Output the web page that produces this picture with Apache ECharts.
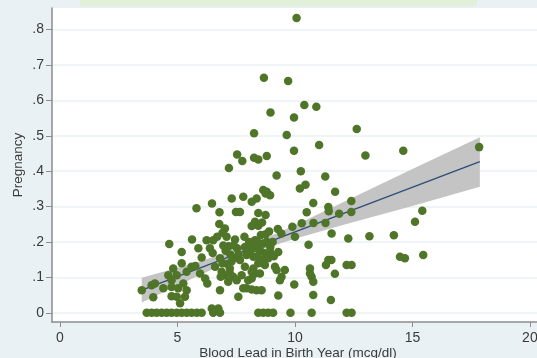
<!DOCTYPE html>
<html>
<head>
<meta charset="utf-8">
<script src="https://cdn.jsdelivr.net/npm/echarts@6/dist/echarts.min.js"></script>
<style>
  html, body { margin: 0; padding: 0; background: #eaf1f4; }
  #chart { width: 537px; height: 358px; }
</style>
</head>
<body>
<div id="chart"></div>
<script>
// blood lead (mcg/dl) and pregnancy rate
const leadX = [
  10.07, 8.68, 9.71, 10.40, 10.91, 8.96, 9.96, 8.26, 9.65, 12.63, 9.96, 11.03, 13.0, 14.61, 17.84,
  7.19, 7.54, 7.76, 8.26, 8.44, 8.80, 9.22, 10.25, 11.29, 10.21, 10.45, 11.71, 8.65, 8.80, 8.94, 8.75,
  7.31, 7.80, 8.16, 8.37, 6.47, 5.81, 6.79, 7.49, 7.66, 8.44, 8.75, 10.78, 12.40, 11.42, 11.44, 10.50,
  11.88, 12.40, 15.42, 15.11, 8.30, 8.44, 8.16, 6.78, 7.02, 6.92, 7.09, 6.69, 6.52, 6.24, 5.62, 4.65,
  5.89, 6.38, 6.50, 7.18, 7.45, 7.54, 5.18, 6.03, 9.89, 10.29, 10.79, 11.30, 9.27, 9.42, 8.75, 10.0,
  11.56, 12.27, 13.17, 14.21, 10.58, 8.30, 8.44, 8.16, 8.37, 8.65, 8.80, 8.09, 7.94, 8.23, 7.87, 8.51,
  8.72, 8.94, 8.86, 8.58, 8.44, 8.72, 9.29, 9.15, 9.22, 9.57, 9.43, 9.36, 8.23, 8.30, 8.16, 8.01, 8.51,
  10.64, 10.64, 10.71, 10.78, 11.42, 11.55, 11.32, 11.70, 12.20, 12.41, 15.46, 14.47, 14.68, 9.97,
  7.94, 8.16, 8.37, 8.58, 9.29, 10.78, 11.53, 6.92, 7.12, 7.23, 6.88, 7.02, 7.23, 7.37, 6.84, 7.16,
  7.52, 7.73, 8.16, 7.87, 7.66, 7.37, 7.80, 7.59, 6.81, 6.60, 5.96, 5.39, 5.60, 5.76, 5.18, 4.82,
  4.61, 4.97, 4.75, 6.27, 6.18, 6.81, 3.48, 3.90, 4.40, 4.75, 5.03, 5.25, 5.39, 4.75, 4.97, 5.32,
  3.97, 5.11, 6.46, 6.74, 4.04,
  7.05, 7.25, 7.40, 7.30, 6.95, 8.55, 8.90, 9.05, 8.60, 8.95, 8.40, 8.05, 7.60, 7.85, 9.10,
  3.69, 3.90, 4.11, 4.33, 4.54, 4.75, 4.97, 5.18, 5.39, 5.60, 5.82, 6.03, 6.52, 6.81,
  8.44, 8.65, 8.86, 9.07, 9.81, 10.71, 12.20, 12.41
];
const pregY = [
  0.833, 0.664, 0.655, 0.587, 0.582, 0.566, 0.552, 0.507, 0.502, 0.519, 0.458, 0.474, 0.444, 0.458, 0.468,
  0.409, 0.447, 0.429, 0.438, 0.433, 0.443, 0.388, 0.400, 0.385, 0.351, 0.362, 0.342, 0.347, 0.342, 0.332, 0.337,
  0.323, 0.328, 0.314, 0.323, 0.309, 0.295, 0.284, 0.285, 0.285, 0.282, 0.276, 0.310, 0.316, 0.299, 0.287, 0.284,
  0.280, 0.285, 0.288, 0.257, 0.257, 0.246, 0.245, 0.251, 0.238, 0.226, 0.215, 0.215, 0.205, 0.205, 0.207, 0.194,
  0.182, 0.182, 0.169, 0.188, 0.207, 0.182, 0.172, 0.156, 0.243, 0.253, 0.254, 0.254, 0.237, 0.224, 0.222, 0.215,
  0.224, 0.210, 0.216, 0.219, 0.192, 0.205, 0.198, 0.191, 0.182, 0.196, 0.201, 0.172, 0.163, 0.158, 0.186, 0.177,
  0.168, 0.172, 0.154, 0.149, 0.140, 0.135, 0.172, 0.130, 0.121, 0.121, 0.102, 0.092, 0.125, 0.111, 0.097, 0.092, 0.111,
  0.125, 0.111, 0.102, 0.088, 0.149, 0.149, 0.135, 0.110, 0.135, 0.135, 0.163, 0.158, 0.154, 0.080,
  0.069, 0.066, 0.064, 0.064, 0.049, 0.050, 0.036, 0.140, 0.138, 0.125, 0.116, 0.106, 0.111, 0.102, 0.102, 0.088,
  0.092, 0.106, 0.116, 0.130, 0.149, 0.154, 0.069, 0.045, 0.154, 0.130, 0.111, 0.116, 0.130, 0.132, 0.140, 0.125,
  0.106, 0.106, 0.092, 0.083, 0.097, 0.064, 0.064, 0.078, 0.069, 0.073, 0.069, 0.083, 0.064, 0.047, 0.045, 0.045,
  0.044, 0.027, 0.012, 0.012, 0.083,
  0.175, 0.165, 0.190, 0.145, 0.190, 0.220, 0.230, 0.200, 0.255, 0.185, 0.160, 0.200, 0.165, 0.215, 0.160,
  0, 0, 0, 0, 0, 0, 0, 0, 0, 0, 0, 0, 0, 0,
  0, 0, 0, 0, 0, 0, 0, 0
];

// fitted line ends and 95% CI band
const fitX = [3.48, 17.87];
const fitY = [0.064, 0.427];
const bandX = [3.48, 5, 6, 7, 8, 9, 10, 12, 15, 17.87];
const bandLo = [0.029, 0.077, 0.108, 0.138, 0.165, 0.188, 0.209, 0.247, 0.302, 0.356];
const bandHi = [0.099, 0.127, 0.146, 0.168, 0.191, 0.218, 0.247, 0.311, 0.406, 0.496];

const xTicks = [0, 5, 10, 15, 20];
const yTicks = [0, 0.1, 0.2, 0.3, 0.4, 0.5, 0.6, 0.7, 0.8];

const chart = echarts.init(document.getElementById("chart"));

const font = "Liberation Sans";
const axisGray = "#8c8c8c";
const labelColor = "#3a3a3a";

chart.setOption({
  backgroundColor: "#eaf1f4",
  animation: false,
  graphic: [
    {
      type: "rect",
      left: 80,
      top: 0,
      shape: { width: 397, height: 6 },
      style: { fill: "#e1f0d9" },
      silent: true,
    },
  ],
  grid: {
    left: 52,
    top: 8,
    width: 492,
    height: 314,
    outerBoundsMode: "none",
    show: true,
    backgroundColor: "#ffffff",
    borderWidth: 0,
  },
  xAxis: {
    type: "value",
    min: -0.34,
    max: 20.6,
    name: "Blood Lead in Birth Year (mcg/dl)",
    nameLocation: "middle",
    nameGap: 24,
    nameMoveOverlap: false,
    nameTextStyle: { fontFamily: font, fontSize: 13.5, color: labelColor },
    axisLine: { onZero: false, lineStyle: { color: axisGray, width: 1.5 } },
    axisTick: { customValues: xTicks, length: 5, lineStyle: { color: axisGray } },
    axisLabel: {
      customValues: xTicks,
      margin: 9,
      fontFamily: font,
      fontSize: 14,
      color: labelColor,
    },
    splitLine: { show: false },
  },
  yAxis: {
    type: "value",
    min: -0.026,
    max: 0.861,
    name: "Pregnancy",
    nameLocation: "middle",
    nameGap: 27,
    nameMoveOverlap: false,
    nameTextStyle: { fontFamily: font, fontSize: 13.5, color: labelColor },
    axisLine: { show: true, onZero: false, lineStyle: { color: axisGray, width: 1.5 } },
    axisTick: { show: true, customValues: yTicks, length: 6, lineStyle: { color: axisGray } },
    axisLabel: {
      customValues: yTicks,
      margin: 8,
      fontFamily: font,
      fontSize: 14,
      color: labelColor,
      formatter: (v) => (v === 0 ? "0" : String(+v.toFixed(1)).replace(/^0/, "")),
    },
    splitLine: { show: true, lineStyle: { color: "#eaf1f4", width: 1.5 } },
  },
  series: [
    {
      type: "custom",
      z: 1,
      silent: true,
      data: [[bandX[0], bandLo[0]]],
      renderItem: (params, api) => {
        const pts = [];
        bandX.forEach((x, i) => pts.push(api.coord([x, bandHi[i]])));
        for (let i = bandX.length - 1; i >= 0; i--) pts.push(api.coord([bandX[i], bandLo[i]]));
        return {
          type: "polygon",
          shape: { points: pts },
          style: { fill: "#c4c4c4" },
        };
      },
    },
    {
      type: "line",
      z: 2,
      silent: true,
      symbol: "none",
      data: fitX.map((x, i) => [x, fitY[i]]),
      lineStyle: { color: "#2e4f7a", width: 1.5 },
    },
    {
      type: "scatter",
      z: 3,
      symbolSize: 8.5,
      data: leadX.map((x, i) => [x, pregY[i]]),
      itemStyle: { color: "#4f7528", opacity: 1 },
    },
  ],
});
</script>
</body>
</html>
